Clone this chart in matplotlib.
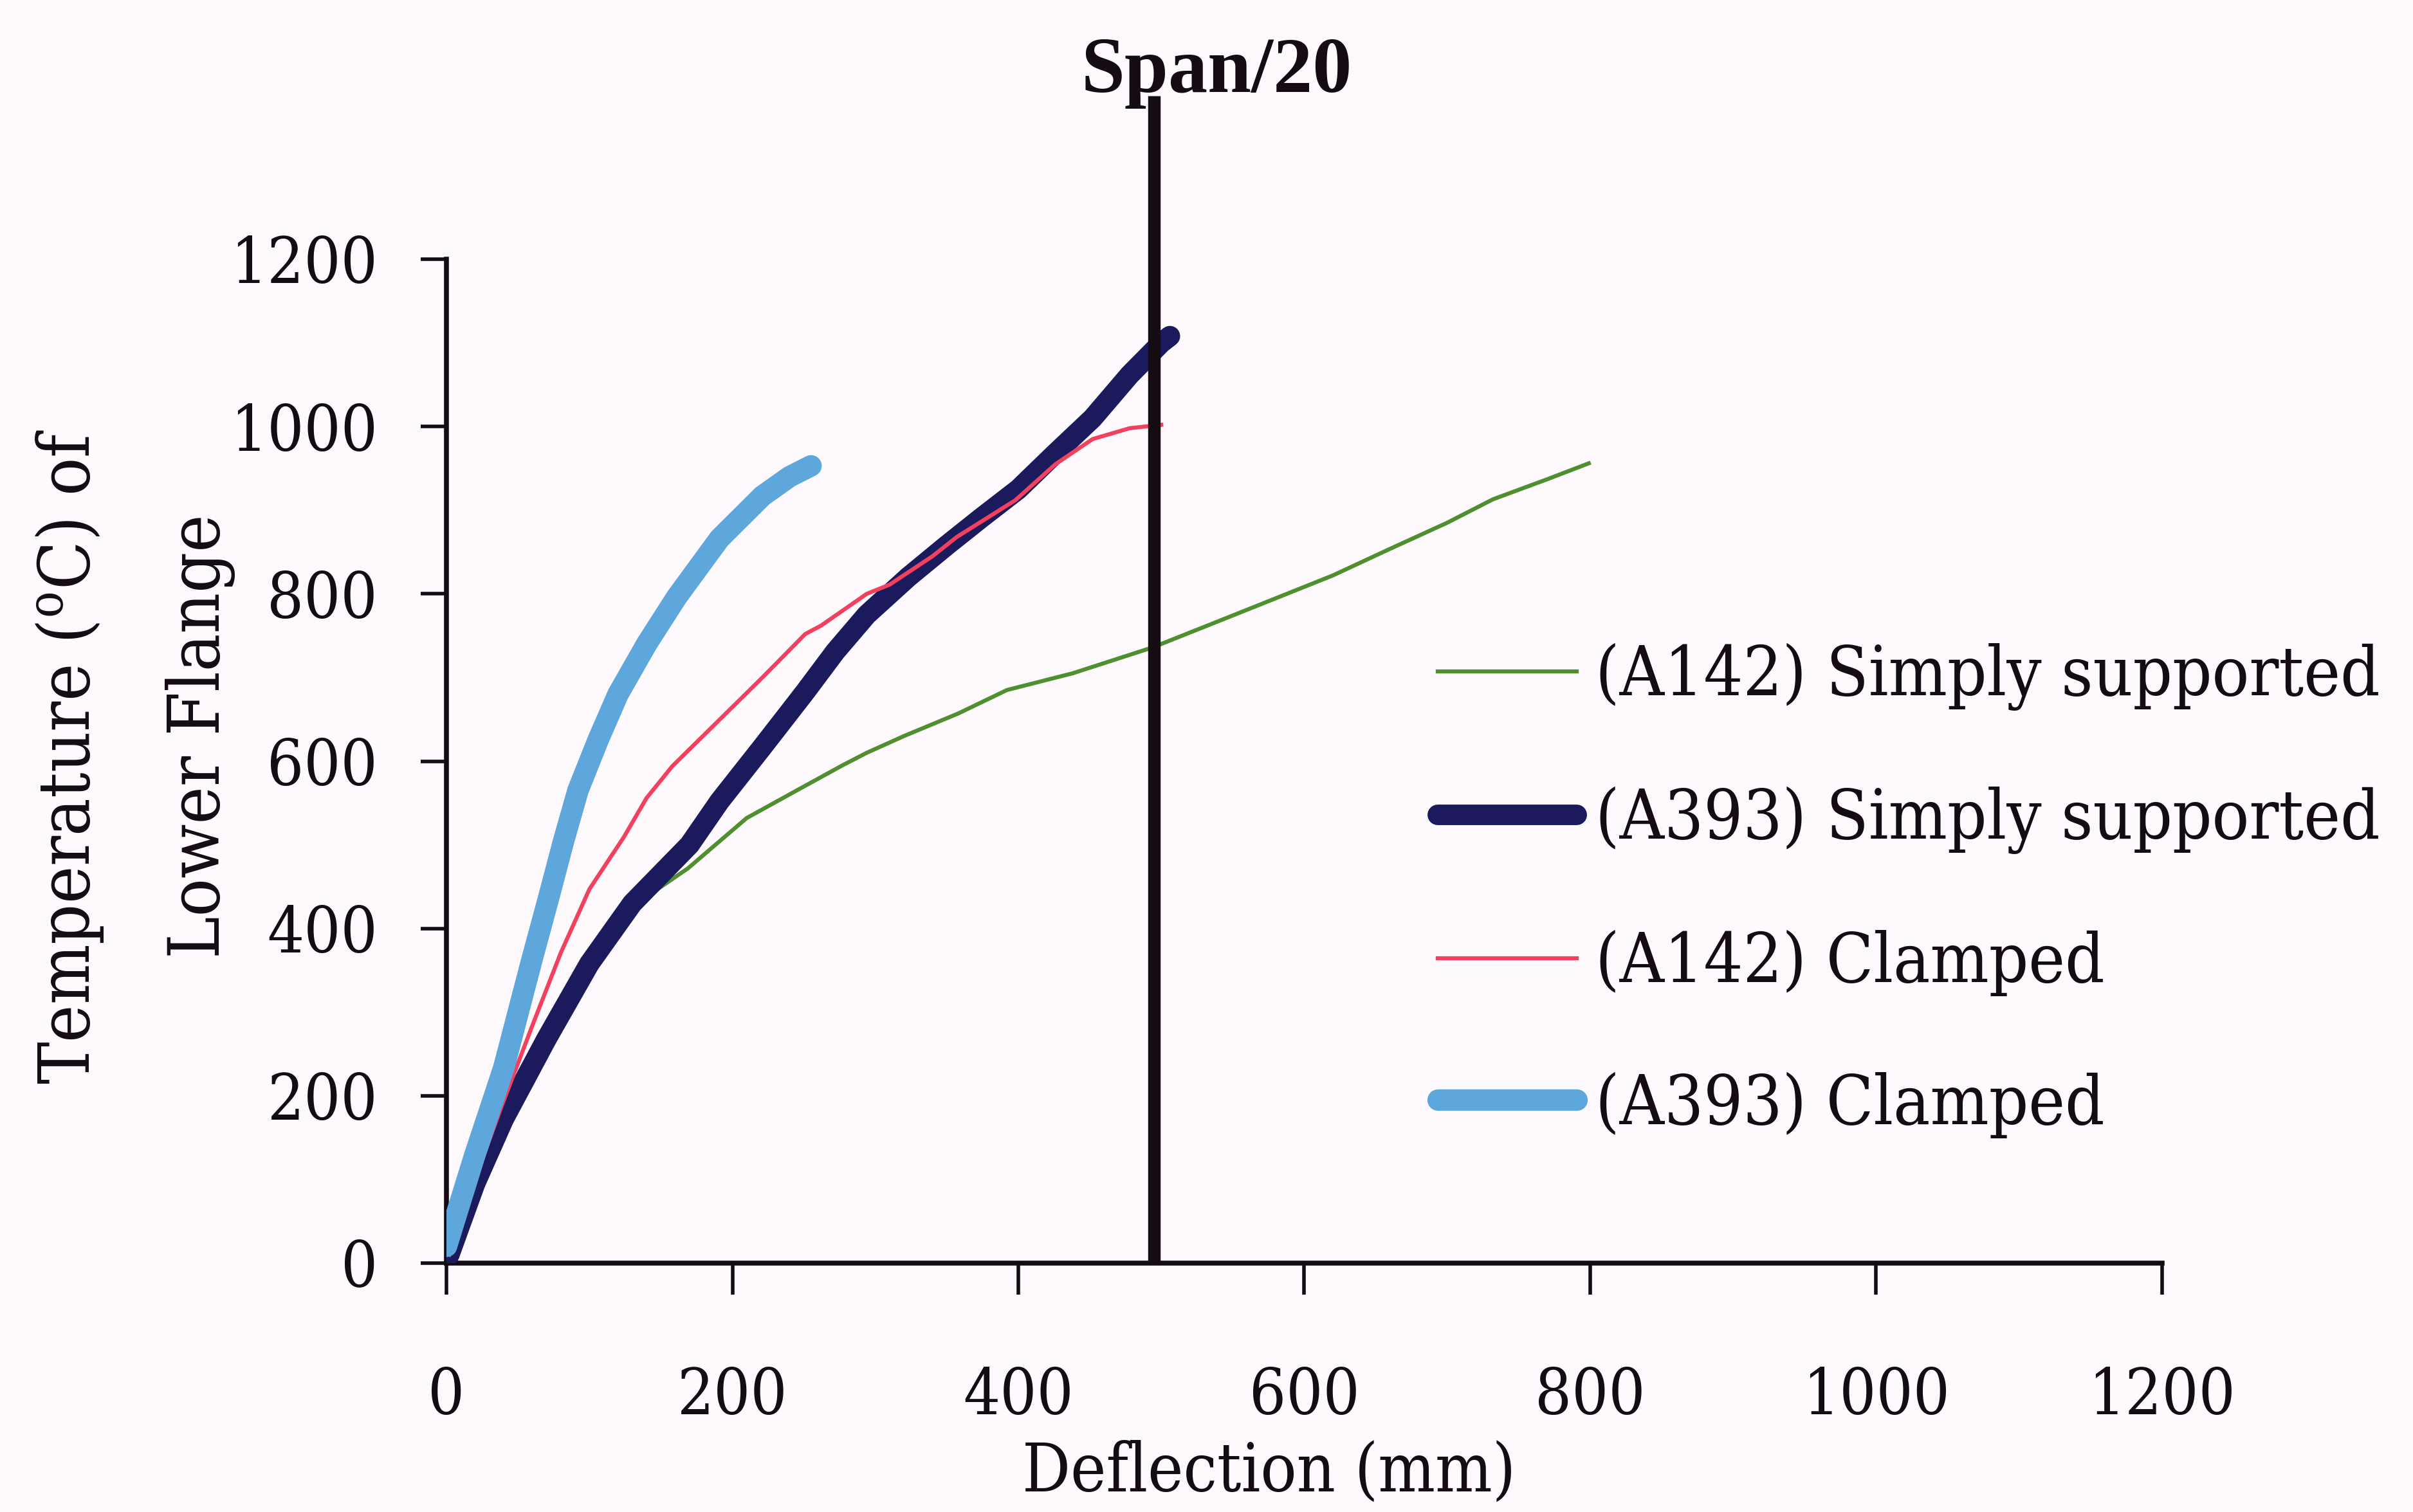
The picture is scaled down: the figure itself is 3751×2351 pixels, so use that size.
import matplotlib
matplotlib.use("Agg")
import matplotlib.pyplot as plt
from matplotlib.transforms import blended_transform_factory

plt.rcParams["font.family"] = ["DejaVu Serif", "DejaVu Sans"]
plt.rcParams["font.stretch"] = "condensed"
plt.rcParams["mathtext.fontset"] = "dejavuserif"

# ---- data: deflection (mm) vs lower-flange temperature (deg C) ----
a142_ss_defl = [2, 20, 40, 70, 100, 130, 146, 169, 210, 245, 277, 294, 320, 358,
                392, 438, 494, 541, 582, 620, 659, 700, 732, 770, 799]
a142_ss_temp = [10, 95, 172, 268, 358, 425, 445, 472, 532, 565, 595, 610, 630, 657,
                685, 705, 736, 768, 796, 822, 853, 885, 913, 937, 956]

a393_ss_defl = [2, 20, 40, 70, 100, 130, 150, 170, 191, 221, 251, 272, 294, 323,
                350, 375, 400, 426, 452, 478, 500, 506]
a393_ss_temp = [10, 95, 172, 268, 358, 430, 465, 500, 552, 617, 683, 731, 775, 820,
                858, 892, 925, 968, 1010, 1062, 1100, 1108]

a142_cl_defl = [2, 20, 38, 61, 80, 100, 124, 140, 158, 180, 221, 251, 262, 294,
                310, 340, 357, 398, 426, 452, 478, 500]
a142_cl_temp = [10, 100, 185, 288, 371, 447, 509, 556, 594, 631, 700, 752, 762, 800,
                811, 845, 868, 912, 955, 985, 998, 1002]

a393_cl_defl = [0, 10, 20, 40, 60, 72, 82, 92, 106, 120, 140, 161, 191, 221, 240, 255]
a393_cl_temp = [20, 75, 130, 233, 364, 440, 505, 565, 625, 680, 740, 796, 866, 917, 940, 953]

series_labels = ["(A142) Simply supported", "(A393) Simply supported",
                 "(A142) Clamped", "(A393) Clamped"]

span_limit = 495          # Span/20 deflection limit (mm)
x_ticks = [0, 200, 400, 600, 800, 1000, 1200]
y_ticks = [0, 200, 400, 600, 800, 1000, 1200]

# ---- styling ----
BG = "#fdf9fc"
INK = "#140c12"
GREEN = "#4f8f2f"
NAVY = "#1b1a5c"
RED = "#f2405f"
LBLUE = "#5ea7dd"

W, H, DPI = 3751, 2351, 100
fig = plt.figure(figsize=(W / DPI, H / DPI), dpi=DPI, facecolor=BG)

x0, x1, y0, y1 = 694, 3361, 1964, 403
ax = fig.add_axes([x0 / W, 1 - y0 / H, (x1 - x0) / W, (y0 - y1) / H])
ax.set_facecolor(BG)
ax.patch.set_alpha(0)

l1, = ax.plot(a142_ss_defl, a142_ss_temp, color=GREEN, lw=4.5, zorder=2)
l2, = ax.plot(a393_ss_defl, a393_ss_temp, color=NAVY, lw=23, zorder=3,
              solid_capstyle="round", solid_joinstyle="round")
l3, = ax.plot(a142_cl_defl, a142_cl_temp, color=RED, lw=4.5, zorder=4)
l4, = ax.plot(a393_cl_defl, a393_cl_temp, color=LBLUE, lw=24, zorder=5,
              solid_capstyle="round", solid_joinstyle="round")

# vertical limit line, running above the plotting area
trans = blended_transform_factory(ax.transData, ax.transAxes)
ax.plot([span_limit, span_limit], [0, 1.163], color=INK, lw=14,
        transform=trans, clip_on=False, zorder=6, solid_capstyle="butt")
fig.text(1891 / W, 1 - 143 / H, "Span/20", ha="center", va="baseline",
         fontsize=88, fontweight="bold", family="Liberation Serif",
         fontstretch="normal", color=INK)

ax.set_xlim(0, 1200)
ax.set_ylim(0, 1200)
ax.set_xticks(x_ticks)
ax.set_yticks(y_ticks)
for side in ("top", "right"):
    ax.spines[side].set_visible(False)
for side in ("left", "bottom"):
    ax.spines[side].set_linewidth(5.5)
    ax.spines[side].set_color(INK)
ax.tick_params(axis="x", direction="out", length=35, width=4, color=INK,
               pad=80, labelsize=72, labelcolor=INK)
ax.tick_params(axis="y", direction="out", length=29, width=4, color=INK,
               pad=48, labelsize=72, labelcolor=INK)

# axis titles
fig.text(1973 / W, 1 - 2290 / H, "Deflection (mm)", ha="center", va="center",
         fontsize=75, color=INK)
fig.text(108 / W, 1 - 1176 / H, r"Temperature ($^{\mathrm{o}}$C) of", rotation=90,
         ha="center", va="center", fontsize=79, color=INK)
fig.text(311 / W, 1 - 1145 / H, "Lower Flange", rotation=90,
         ha="center", va="center", fontsize=79, color=INK)

ax.legend([l1, l2, l3, l4], series_labels, loc="upper left",
          bbox_to_anchor=(2235 / W, 1 - 1000 / H), bbox_transform=fig.transFigure,
          frameon=False, fontsize=77, handlelength=2.02, handletextpad=0.27,
          labelspacing=1.10, borderpad=0, borderaxespad=0, labelcolor=INK)

fig.savefig("out.png", dpi=DPI, facecolor=BG)
